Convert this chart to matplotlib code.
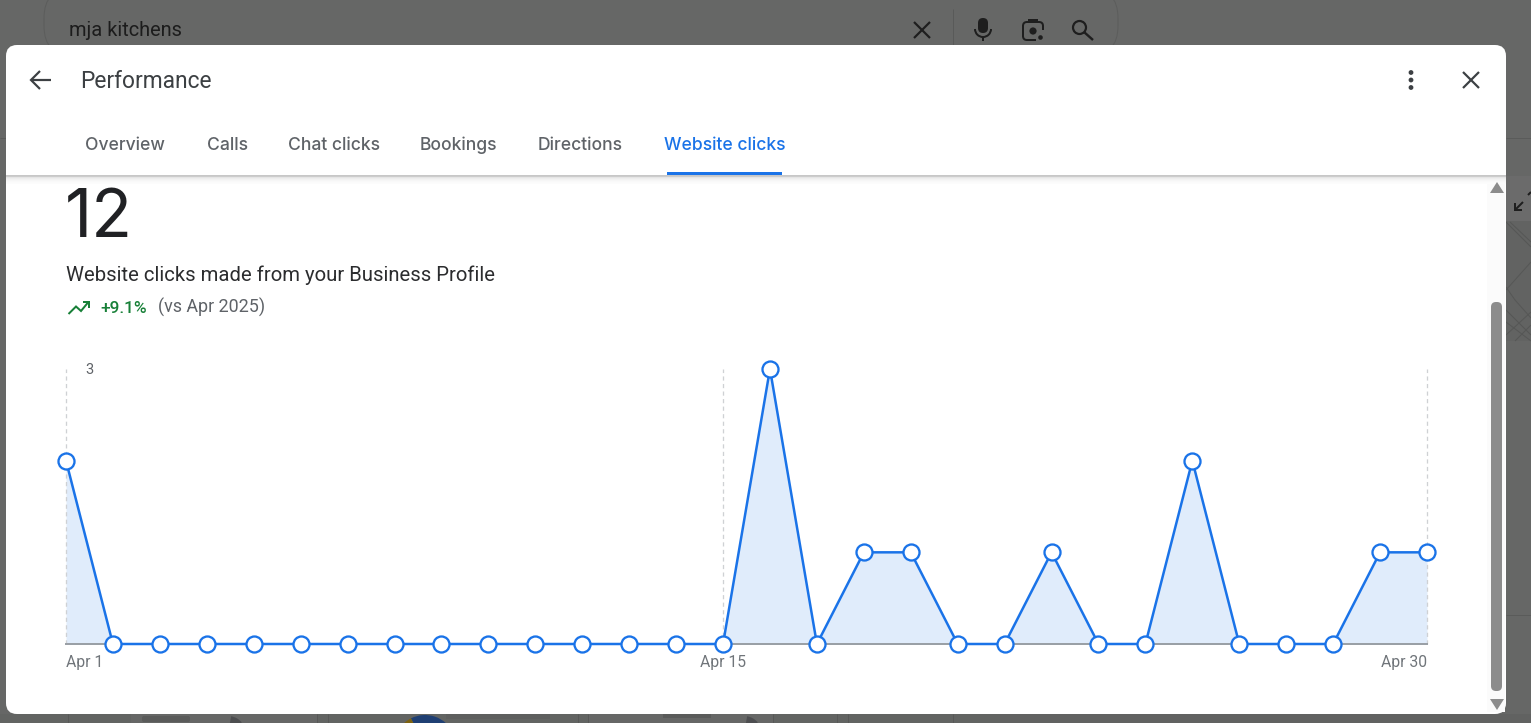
#!/usr/bin/env python3
import matplotlib
matplotlib.use("Agg")
import matplotlib.pyplot as plt
import matplotlib.patches as mpatches

# === DATA ===
DAYS = list(range(1, 31))
CLICKS = [2, 0, 0, 0, 0, 0, 0, 0, 0, 0, 0, 0, 0, 0, 0,
          3, 0, 1, 1, 0, 0, 1, 0, 0, 2, 0, 0, 0, 1, 1]
GUIDE_DAYS = [1, 15, 30]
DATE_LABELS = ["Apr 1", "Apr 15", "Apr 30"]
TABS = ["Overview", "Calls", "Chat clicks", "Bookings", "Directions", "Website clicks"]
TAB_X = [85, 207.5, 287.5, 420, 537.5, 664]

# === STYLE ===
BLUE = "#1a73e8"
FILL = "#e0ecfb"
GUIDE = "#cfd1d4"
BASELINE = "#9aa0a6"
DARK = "#202124"
GREY = "#5f6368"
BACK = "#666766"
ICON = "#3c4043"
INK = "#1e1e1e"
WIDTH, HEIGHT = 1531, 723
DPI = 100
PX = 72 / DPI  # one pixel in points

plt.rcParams["font.family"] = ["Roboto", "DejaVu Sans"]

fig = plt.figure(figsize=(WIDTH / DPI, HEIGHT / DPI), dpi=DPI, facecolor=BACK)

# page layer in pixel coordinates, y pointing down
ui = fig.add_axes([0, 0, 1, 1])
ui.set_xlim(0, WIDTH)
ui.set_ylim(HEIGHT, 0)
ui.axis("off")


def px_line(xs, ys, color=ICON, lw=2.0, z=5, cap="butt", join="miter"):
    ui.plot(xs, ys, color=color, lw=lw * PX, zorder=z, solid_capstyle=cap,
            solid_joinstyle=join)


def px_text(x, y, s, size, color=GREY, weight="normal", ha="left", z=6, **kw):
    # y is the text baseline
    ui.text(x, y, s, fontsize=size * PX, color=color, fontweight=weight, ha=ha,
            va="baseline", zorder=z, **kw)


def px_round_rect(x0, y0, x1, y1, r, **kw):
    ui.add_patch(mpatches.FancyBboxPatch(
        (x0 + r, y0 + r), x1 - x0 - 2 * r, y1 - y0 - 2 * r,
        boxstyle=f"round,pad={r},rounding_size={r}", mutation_aspect=1, **kw))


def px_rect(x0, y0, x1, y1, color, z=1):
    ui.add_patch(mpatches.Rectangle((x0, y0), x1 - x0, y1 - y0, fc=color, ec="none", zorder=z))


def draw_background():
    """Dimmed page behind the dialog."""
    # search box
    px_round_rect(44, -12, 1118, 56, 30, fc="none", ec="#5c5d5c", lw=1 * PX, zorder=1)
    px_text(69, 36, "mja kitchens", 20, color="#1c1c1c", z=2)
    px_line([914, 930], [22, 38], color=INK, lw=2.2, z=2)
    px_line([914, 930], [38, 22], color=INK, lw=2.2, z=2)
    px_line([952.5, 952.5], [9, 45], color="#595a59", lw=1, z=2)
    # microphone
    px_round_rect(978, 18, 988, 33, 5, fc=INK, ec="none", zorder=2)
    ui.add_patch(mpatches.Arc((983, 29), 16, 16, theta1=0, theta2=180,
                              ec=INK, lw=2 * PX, zorder=2))
    px_line([983, 983], [37, 41], color=INK, lw=2, z=2)
    # lens
    px_round_rect(1023, 22, 1043, 40, 4, fc="none", ec=INK, lw=2 * PX, zorder=2)
    px_rect(1028, 19, 1038, 23, INK, z=2)
    px_rect(1036, 30, 1045, 41, BACK, z=2)
    ui.add_patch(mpatches.Circle((1033, 31), 3.6, fc=INK, ec="none", zorder=3))
    ui.add_patch(mpatches.Circle((1040.5, 37.5), 2.3, fc=INK, ec="none", zorder=3))
    # magnifier
    ui.add_patch(mpatches.Circle((1079.5, 27.5), 6.5, fc="none", ec=INK,
                                 lw=2.2 * PX, zorder=2))
    px_line([1084, 1093], [32, 40], color=INK, lw=2.4, z=2)

    # section rule left and right of the dialog
    px_line([0, 6], [138, 138], color="#5a5b5a", lw=1, z=1)
    px_line([1506, 1531], [138, 138], color="#5a5b5a", lw=1, z=1)

    # map thumbnail and expand control
    px_rect(1506, 176, 1531, 221, "#6b6b6b")
    px_line([1515, 1523], [210, 202], color=INK, lw=2, z=2)
    px_line([1515, 1515, 1522], [203, 210, 210], color=INK, lw=2, z=2)
    px_line([1528, 1531], [195, 192], color=INK, lw=2, z=2)
    px_rect(1506, 221, 1531, 341, "#626362")
    map_lines = [
        ([1506, 1531], [222, 247]), ([1510, 1531], [222, 242]),
        ([1506, 1531], [290, 262]), ([1506, 1515], [287, 300]),
        ([1515, 1531], [300, 318]), ([1506, 1531], [310, 335]),
        ([1506, 1531], [322, 341]), ([1506, 1531], [335, 312]),
        ([1515, 1531], [341, 325]),
    ]
    for xs, ys in map_lines:
        px_line(xs, ys, color="#565756", lw=1, z=2)
    px_line([1506, 1531], [615, 615], color="#5a5b5a", lw=1, z=1)

    # lower page strip with cards and a pie thumbnail
    px_rect(0, 714, 1000, 723, "#626462")
    px_rect(1000, 714, 1531, 723, "#616261")
    px_rect(131, 714, 317, 723, "#666766")
    px_rect(588, 714, 773, 723, "#666766")
    for x in [68, 317, 328, 578, 588, 773, 837, 848, 953]:
        px_line([x, x], [714, 723], color="#575857", lw=1, z=2)
    px_round_rect(142, 716, 190, 722, 2, fc="#5a5b5a", ec="none", zorder=2)
    px_rect(663, 714, 711, 718, "#5a5b5a", z=2)
    ui.add_patch(mpatches.Wedge((425, 746), 31, 243, 335, fc="#1f3f73", ec="none", zorder=2))
    ui.add_patch(mpatches.Wedge((425, 746), 31, 215, 243, fc="#7d6210", ec="none", zorder=2))
    px_rect(446, 714, 550, 719, "#5e5f5e", z=2)
    ui.add_patch(mpatches.Wedge((228, 734), 18, 280, 320, fc="#4d4e50", ec="none", zorder=2))
    ui.add_patch(mpatches.Wedge((744, 734), 18, 280, 320, fc="#4d4e50", ec="none", zorder=2))


def draw_dialog():
    """White dialog with its header, tabs and scrollbar."""
    px_round_rect(6, 45, 1506, 714, 11, fc="white", ec="none", zorder=3)

    # header icons
    px_line([31, 51], [80, 80], lw=2.2)
    px_line([40, 31, 40], [71, 80, 89], lw=2.2)
    px_text(80, 88, "Performance", 22.8, color="#3c4043")
    for y in [72.5, 80, 87.5]:
        ui.add_patch(mpatches.Circle((1411, y), 2.4, fc=ICON, ec="none", zorder=5))
    px_line([1463, 1479], [72, 88], lw=2.2)
    px_line([1463, 1479], [88, 72], lw=2.2)

    # tabs
    for i, (label, x) in enumerate(zip(TABS, TAB_X)):
        active = i == len(TABS) - 1
        px_text(x, 150, label, 17.5, color=BLUE if active else GREY, weight="medium",
                family="Inter")
    px_rect(667, 172, 782, 175, BLUE, z=6)

    # header shadow
    alphas = [0.22, 0.2, 0.1, 0.07, 0.05, 0.035, 0.025, 0.015, 0.01]
    for k, alpha in enumerate(alphas):
        ui.add_patch(mpatches.Rectangle((6, 175 + k), 1500, 1, fc="black", alpha=alpha,
                                        ec="none", zorder=4))

    # scrollbar
    px_rect(1487, 184, 1505, 712, "#fbfbfb", z=4)
    px_round_rect(1491, 302, 1502, 691, 5, fc="#8c8c8c", ec="none", zorder=5)
    ui.add_patch(mpatches.Polygon([[1490, 193], [1504, 193], [1497, 182]], fc="#8c8c8c",
                                  ec="none", zorder=5))
    ui.add_patch(mpatches.Polygon([[1490, 699], [1504, 699], [1497, 710]], fc="#8c8c8c",
                                  ec="none", zorder=5))


def draw_summary():
    """Total, caption and year-over-year change."""
    px_text(65, 237, "12", 67, color=DARK, family="Inter")
    px_text(66, 281, "Website clicks made from your Business Profile", 20.3, color="#2b2c2e")
    green = "#188038"
    px_line([68.5, 76, 81, 88], [314, 306.5, 311, 302.5], color=green, lw=2)
    px_line([83, 88.5, 88.5], [302, 302, 308], color=green, lw=2)
    px_text(100.5, 313, "+9.1%", 17.2, color=green, weight="medium")
    px_text(157.5, 313, "(vs Apr 2025)", 17.9, color=GREY)


def draw_chart():
    """Daily clicks as a filled line with open markers."""
    x0, x1, y_top, y_base = 66, 1427, 369, 644
    ax = fig.add_axes([x0 / WIDTH, 1 - y_base / HEIGHT,
                       (x1 - x0) / WIDTH, (y_base - y_top) / HEIGHT],
                      facecolor="none", zorder=2)
    ax.set_xlim(DAYS[0], DAYS[-1])
    ax.set_ylim(0, max(CLICKS))
    ax.axis("off")

    ax.fill_between(DAYS, CLICKS, 0, color=FILL, lw=0, zorder=1)
    ax.vlines(GUIDE_DAYS, 0, max(CLICKS), color=GUIDE, lw=1.3 * PX,
              linestyles=(0, (3.2, 2.6)), zorder=2, clip_on=False)
    ax.axhline(0, color=BASELINE, lw=2 * PX, zorder=3, clip_on=False)
    ax.plot(DAYS, CLICKS, color=BLUE, lw=2.5 * PX, marker="o", ms=16 * PX,
            mfc="white", mec=BLUE, mew=2.3 * PX, zorder=4, clip_on=False)

    ax.annotate(str(max(CLICKS)), (DAYS[0], max(CLICKS)), xytext=(19 * PX, -5 * PX),
                textcoords="offset points", fontsize=14.5 * PX, color=GREY,
                va="baseline", ha="left")
    aligns = ["left", "center", "right"]
    for day, label, align in zip(GUIDE_DAYS, DATE_LABELS, aligns):
        ax.annotate(label, (day, 0), xytext=(0, -23 * PX), textcoords="offset points",
                    fontsize=15.8 * PX, color="#70757a", va="baseline", ha=align)


def main():
    draw_background()
    draw_dialog()
    draw_summary()
    draw_chart()
    fig.savefig("out.png", dpi=DPI, facecolor=BACK)
    plt.close(fig)


if __name__ == "__main__":
    main()
